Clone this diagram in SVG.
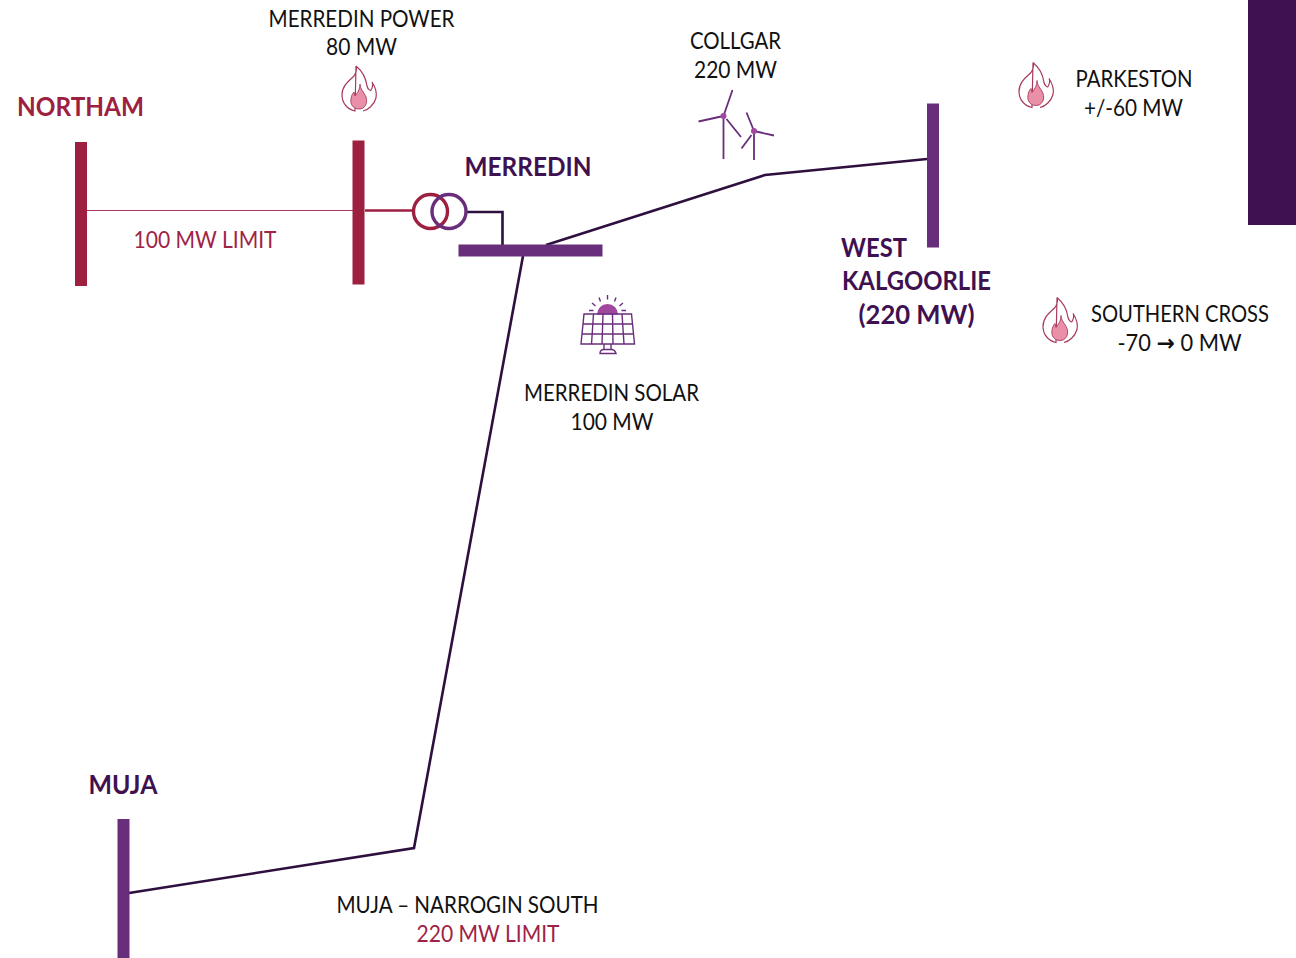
<svg xmlns="http://www.w3.org/2000/svg" width="1296" height="958" viewBox="0 0 1296 958">
<style>
text{font-family:"Lato","Open Sans","Liberation Sans",sans-serif;text-anchor:middle}
.l{font-size:22.7px;fill:#111}
.r{font-size:22.7px;fill:#9e2346}
.hp{font-size:26.5px;font-weight:700;fill:#3f1151}
.hr{font-size:26.5px;font-weight:700;fill:#9e2040}
.bp{fill:#692e7b}
.br{fill:#9e2040}
.w{stroke:#2e0f3e;stroke-width:2.6;fill:none}
.wt{stroke:#692e7b;stroke-width:1.8;fill:none}
.wh{fill:#a0479f}
.s{stroke:#692e7b;stroke-width:1.4;fill:none}
.a{font-family:"DejaVu Sans",sans-serif;font-weight:700}
</style>
<defs>
<g id="flame">
<path d="M14,0C20,5 24,12 25,20C26,24 29,25 29,24C31,21 31,17 30,16C34,22 35,27 34,32C32,39 26,44 21,45M13,45C5,43 0,37 0,29C0,19 8,14 12,10C14,7 15,3 14,0Z" fill="none" stroke="#a83a5c" stroke-width="1.2"/>
<path d="M18,18C18,23 22,26 24,31C26,37 23,43 17,43C11,43 8,38 9,33C9,30 11,27 12,26L13,30C15,27 18,24 18,18Z" fill="#e98fa8" stroke="#a83a5c" stroke-width="0.9"/>
</g>
</defs>
<rect id="corner-band" x="1248" y="0" width="48" height="225" fill="#3f1151"/>
<g id="connectors">
<path d="M87,210.500H353" stroke="#a83a5c" stroke-width="1.2" fill="none"/>
<path d="M365,210.500H413" stroke="#9e2040" stroke-width="2.400" fill="none"/>
<path class="w" d="M467,212H502.500V245"/>
<path class="w" d="M546,245L765,175L927,159"/>
<path class="w" d="M523,256L414,848L129,893"/>
</g>
<g id="northam"><rect class="br" x="75" y="142" width="12" height="144"/><text class="hr" x="80.500" y="115.500" textLength="127" lengthAdjust="spacingAndGlyphs">NORTHAM</text></g>
<g id="merredin-power"><rect class="br" x="352.500" y="140.500" width="12" height="144"/><text class="l" x="361.500" y="26.800" textLength="186" lengthAdjust="spacingAndGlyphs">MERREDIN POWER</text><text class="l" x="361.500" y="55" textLength="71" lengthAdjust="spacingAndGlyphs">80 MW</text><use href="#flame" x="342" y="66"/></g>
<g id="transformer"><circle cx="430.500" cy="211.500" r="17" fill="none" stroke="#9e2040" stroke-width="3.400"/><circle cx="449" cy="211.500" r="17" fill="none" stroke="#692e7b" stroke-width="3.400"/></g>
<g id="merredin"><rect class="bp" x="458.500" y="244.500" width="144" height="12"/><text class="hp" x="528" y="175.800" textLength="127" lengthAdjust="spacingAndGlyphs">MERREDIN</text></g>
<g id="collgar"><text class="l" x="735.500" y="48.800" textLength="91" lengthAdjust="spacingAndGlyphs">COLLGAR</text><text class="l" x="735.500" y="77.800" textLength="83" lengthAdjust="spacingAndGlyphs">220 MW</text>
<path class="wt" d="M723.500,116V159M723.500,116L732.500,90M723.500,116L698.500,121.500M726.500,119L741,137"/><circle class="wh" cx="723.500" cy="116" r="3"/>
<path class="wt" d="M754,131V160M754,131L746.500,112.500M754,131L774,135.500M751.500,135L741.500,148.500"/><circle class="wh" cx="754" cy="131" r="3"/></g>
<g id="west-kalgoorlie"><rect class="bp" x="927" y="103.500" width="12" height="144"/><text class="hp" x="874" y="256.500" textLength="66" lengthAdjust="spacingAndGlyphs">WEST</text><text class="hp" x="916.500" y="289.500" textLength="149" lengthAdjust="spacingAndGlyphs">KALGOORLIE</text><text class="hp" x="916.500" y="323.800" textLength="116" lengthAdjust="spacingAndGlyphs">(220 MW)</text></g>
<g id="parkeston"><use href="#flame" x="1019" y="62.500"/><text class="l" x="1134" y="86.800" textLength="117" lengthAdjust="spacingAndGlyphs">PARKESTON</text><text class="l" x="1133.500" y="115.800" textLength="99" lengthAdjust="spacingAndGlyphs">+/-60 MW</text></g>
<g id="southern-cross"><use href="#flame" x="1043" y="297.500"/><text class="l" x="1180" y="321.800" textLength="178" lengthAdjust="spacingAndGlyphs">SOUTHERN CROSS</text><text class="l" x="1179.500" y="350.800" textLength="124" lengthAdjust="spacingAndGlyphs">-70 <tspan class="a">→</tspan> 0 MW</text></g>
<g id="merredin-solar">
<path d="M597,314.500A10.500,10.500 0 0 1 618,314.500Z" fill="#a0479f"/>
<path class="s" d="M584,314H631.500L634.500,344H581ZM582.500,324H633M581.500,334H634M593.500,314L591.500,344M603,314L602,344M612.500,314L613,344M622,314L624,344M604,344V349.500M611,344V349.500"/>
<path class="s" d="M600,353.500Q600,349.500 604,349.500H611Q615,349.500 616,353.500ZM589,310.500H593.500M621.500,310.500H626M592,303L595.500,306M623,303L619.500,306M599,297.500L600.500,301.500M616,297.500L614.500,301.500M607.500,295V299.500"/>
<text class="l" x="611.500" y="400.800" textLength="175" lengthAdjust="spacingAndGlyphs">MERREDIN SOLAR</text><text class="l" x="612" y="429.800" textLength="83" lengthAdjust="spacingAndGlyphs">100 MW</text></g>
<g id="muja"><rect class="bp" x="117.500" y="819" width="12" height="139"/><text class="hp" x="123" y="793.500" textLength="69" lengthAdjust="spacingAndGlyphs">MUJA</text></g>
<text class="r" x="205" y="247.800" textLength="143" lengthAdjust="spacingAndGlyphs">100 MW LIMIT</text>
<text class="l" x="467.500" y="912.800" textLength="262" lengthAdjust="spacingAndGlyphs">MUJA – NARROGIN SOUTH</text>
<text class="r" x="488" y="941.800" textLength="143" lengthAdjust="spacingAndGlyphs">220 MW LIMIT</text>
</svg>
